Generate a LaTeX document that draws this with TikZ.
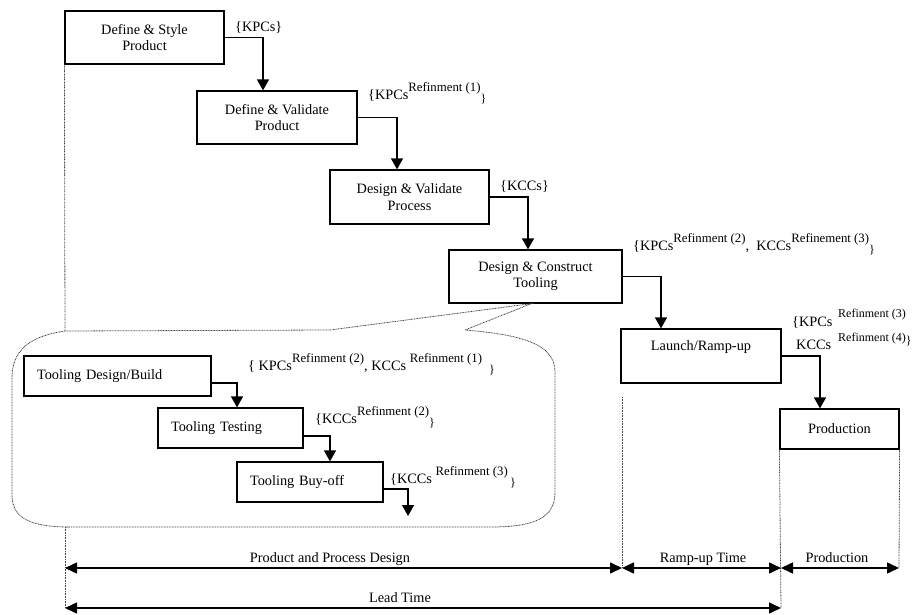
\documentclass[tikz,border=0pt]{standalone}
\usepackage{fontspec}
\setmainfont{Liberation Serif}
\usetikzlibrary{arrows.meta}
\newcommand\sr[1]{\raisebox{8pt}{\fontsize{12.8}{12.8}\selectfont #1}}
\newcommand\cbr{\raisebox{-3pt}{\fontsize{12}{12}\selectfont\}}}
\tikzset{
  box/.style={draw, line width=1.2pt, inner sep=0pt, align=center},
  subbox/.style={draw, line width=1.2pt, inner ysep=0pt, inner xsep=13pt, align=left, minimum height=40pt},
  flow/.style={line width=1.3pt, -{Triangle[length=11pt,width=12pt]}},
  dim/.style={line width=1.5pt, {Triangle[length=12pt,width=11pt]}-{Triangle[length=12pt,width=11pt]}},
  dotline/.style={line width=0.8pt, black!75, dash pattern=on 0.9pt off 0.7pt},
  lbl/.style={inner sep=0pt, anchor=base west},
  dlbl/.style={inner sep=0pt, anchor=base}
}
\begin{document}
\begin{tikzpicture}[x=1pt,y=-1pt,font=\fontsize{14.3}{16.5}\selectfont]
\useasboundingbox (0,0) rectangle (916,615);

% main boxes
\node[box, minimum width=159pt, minimum height=53pt] (b1) at (144.5,37.5) {Define \& Style\\Product};
\node[box, minimum width=160pt, minimum height=53pt] (b2) at (277,117.5) {Define \& Validate\\Product};
\node[box, minimum width=159pt, minimum height=54pt] (b3) at (409.5,197) {Design \& Validate\\Process};
\node[box, minimum width=173pt, minimum height=53pt] (b4) at (535.5,276.5) {Design \& Construct\\Tooling};
\node[box, minimum width=160pt, minimum height=54pt] (b5) at (701,356) {Launch/Ramp-up\\\strut};
\node[box, minimum width=119pt, minimum height=40pt] (b6) at (839.5,429) {Production};

% sub boxes
\node[subbox, text width=161pt] (s1) at (117.5,376) {Tooling Design/Build};
\node[subbox, text width=119pt] (s2) at (230.5,428) {Tooling Testing};
\node[subbox, text width=120pt] (s3) at (310,482) {Tooling Buy-off};
\coordinate (s3end) at (408,516);

% flow arrows
\draw[flow] (b1.east) -| ([xshift=-14pt]b2.north);
\draw[flow] (b2.east) -| ([xshift=-12.5pt]b3.north);
\draw[flow] (b3.east) -| ([xshift=-7.5pt]b4.north);
\draw[flow] (b4.east) -| ([xshift=-40pt]b5.north);
\draw[flow] (b5.east) -| ([xshift=-19.5pt]b6.north);
\draw[flow] ([yshift=-7pt]s1.east) -| ([xshift=6.5pt]s2.north);
\draw[flow] ([yshift=-8pt]s2.east) -| ([xshift=20pt]s3.north);
\draw[flow] ([yshift=-7pt]s3.east) -| (s3end);

% callout
\coordinate (ctop) at (65,331);
\coordinate (cbot) at (65,527);
\draw[dotline] (330,330) -- ([xshift=-4pt]b4.south) -- (465,330)
  .. controls (525,335) and (555,345) .. (555,372) -- (555,492)
  .. controls (555,518) and (535,527) .. (490,527) -- (cbot) -- (70,527)
  .. controls (30,527) and (12,518) .. (12,495) -- (12,378)
  .. controls (12,350) and (30,336) .. (ctop) -- cycle;

% dotted guide lines
\coordinate (d0) at (65,568);
\coordinate (d1) at (622,568);
\coordinate (d2) at (781,568);
\coordinate (d3) at (899,568);
\coordinate (l0) at (65,608);
\coordinate (l1) at (781,608);
\coordinate (g1) at (622,397);
\draw[dotline] (b1.south west) -- (ctop);
\draw[dotline] (cbot) -- (l0);
\draw[dotline] (g1) -- (d1);
\draw[dotline] (b6.south west) -- (l1);
\draw[dotline] (b6.south east) -- (d3);

% dimension arrows
\draw[dim] (d0) -- (d1);
\draw[dim] (d1) -- (d2);
\draw[dim] (d2) -- (d3);
\draw[dim] (l0) -- (l1);
\node[dlbl] (t1) at (330,562) {Product and Process Design};
\node[dlbl] (t2) at (703,562) {Ramp-up Time};
\node[dlbl] (t3) at (837,562) {Production};
\node[dlbl] (t4) at (400,602) {Lead Time};

% labels
\node[lbl] (k1) at (235,32) {\{KPCs\}};
\node[lbl] (k2) at (368,100) {\{KPCs\sr{Refinment (1)}\cbr};
\node[lbl] (k3) at (500,190) {\{KCCs\}};
\node[lbl] (k4) at (633,250) {\{KPCs\sr{Refinment (2)}, \ KCCs\sr{Refinement (3)}\cbr};
\node[lbl] (k5a) at (792,326) {\{KPCs};
\node[lbl] (k5b) at (796,349) {KCCs};
\node[lbl, font=\fontsize{12}{12}\selectfont] (k5c) at (838,317) {Refinment (3)};
\node[lbl, font=\fontsize{12}{12}\selectfont] (k5d) at (838,341) {Refinment (4)\raisebox{-3pt}{\}}};
\node[lbl] (m1) at (248,370) {\{ KPCs\sr{Refinment (2)}, KCCs \sr{Refinment (1)} \ \cbr};
\node[lbl] (m2) at (315,423) {\{KCCs\sr{Refinment (2)}\cbr};
\node[lbl] (m3) at (390,483) {\{KCCs \sr{Refinment (3)}\,\cbr};
\end{tikzpicture}
\end{document}
